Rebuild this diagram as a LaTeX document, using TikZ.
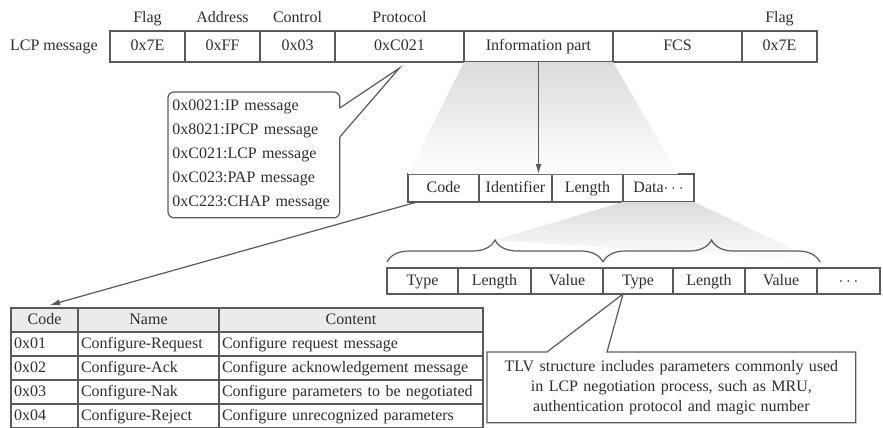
\documentclass[tikz,border=0pt]{standalone}
\usepackage{fontspec}
\setmainfont{Liberation Serif}
\usetikzlibrary{arrows.meta,positioning,decorations.pathreplacing,calc}
\definecolor{LineGray}{HTML}{5A5A5A}
\definecolor{TextGray}{HTML}{2E2E2E}
\definecolor{HeadGray}{HTML}{EBEBEB}
\newcommand{\lcpfont}{\fontsize{8}{10}\selectfont}
\tikzset{%
  field/.style={draw=LineGray,line width=0.6pt,inner sep=0pt,outer sep=0pt,
    minimum height=15.5pt,font=\lcpfont,text=TextGray,text height=5.8pt,text depth=1.7pt},
  subfield/.style={field,minimum height=14pt},
  tlvfield/.style={field,minimum height=13pt},
  caption/.style={inner sep=0pt,font=\lcpfont,text=TextGray,text height=5.8pt,text depth=1.7pt},
  cell/.style={draw=LineGray,line width=0.6pt,inner xsep=1.5pt,inner ysep=0pt,outer sep=0pt,
    anchor=north west,minimum height=12pt,font=\lcpfont,text=TextGray,
    text height=5.8pt,text depth=1.7pt,align=left},
  headcell/.style={cell,fill=HeadGray,align=center},
  note/.style={inner sep=0pt,font=\lcpfont,text=TextGray},
  outline/.style={draw=LineGray,line width=0.6pt},
  flow/.style={-{Latex[length=5pt,width=3pt]},line width=0.6pt,LineGray},
  funnel/.style={top color=black!14,bottom color=white,draw=none},
  tlvbrace/.style={decorate,decoration={brace,amplitude=11pt},outline}
}

\begin{document}
\begin{tikzpicture}[x=0.5pt,y=-0.5pt]
  \fill[white] (0,0) rectangle (883,428);
  \useasboundingbox (0,0) rectangle (883,428);

  % LCP frame
  \node[field,minimum width=37.5pt,anchor=west] (flagA) at (110,46.5) {0x7E};
  \node[field,minimum width=37.5pt,right=0pt of flagA] (addr) {0xFF};
  \node[field,minimum width=37.5pt,right=0pt of addr] (ctrl) {0x03};
  \node[field,minimum width=64.5pt,right=0pt of ctrl] (proto) {0xC021};
  \node[field,minimum width=74.5pt,right=0pt of proto] (info) {Information part};
  \node[field,minimum width=64.5pt,right=0pt of info] (fcs) {FCS};
  \node[field,minimum width=37.5pt,right=0pt of fcs] (flagB) {0x7E};
  \node[caption,left=6pt of flagA] (lcplabel) {LCP message};
  \node[caption,above=2.5pt of flagA] (lblflagA) {Flag};
  \node[caption,above=2.5pt of addr] (lbladdr) {Address};
  \node[caption,above=2.5pt of ctrl] (lblctrl) {Control};
  \node[caption,above=2.5pt of proto] (lblproto) {Protocol};
  \node[caption,above=2.5pt of flagB] (lblflagB) {Flag};

  % information part
  \node[subfield,minimum width=35.5pt,anchor=west] (code) at (408,188) {Code};
  \node[subfield,minimum width=36.5pt,right=0pt of code] (ident) {Identifier};
  \node[subfield,minimum width=35.5pt,right=0pt of ident] (len) {Length};
  \node[subfield,minimum width=35.5pt,right=0pt of len] (data) {Data\ensuremath{\cdots}};

  % TLV options
  \node[tlvfield,minimum width=35.5pt,anchor=west] (typeA) at (387,281) {Type};
  \node[tlvfield,minimum width=36.5pt,right=0pt of typeA] (lenA) {Length};
  \node[tlvfield,minimum width=36pt,right=0pt of lenA] (valA) {Value};
  \node[tlvfield,minimum width=35pt,right=0pt of valA] (typeB) {Type};
  \node[tlvfield,minimum width=36pt,right=0pt of typeB] (lenB) {Length};
  \node[tlvfield,minimum width=36pt,right=0pt of lenB] (valB) {Value};
  \node[tlvfield,minimum width=31.5pt,right=0pt of valB] (more) {\ensuremath{\cdots}};

  % code table
  \node[headcell,text width=30.5pt] (hcode) at (11,308) {Code};
  \node[headcell,text width=67.5pt] (hname) at (78,308) {Name};
  \node[headcell,text width=129pt] (hcontent) at (219,308) {Content};
  \foreach \cd/\nm/\ct [count=\i] in {0x01/Configure-Request/Configure request message,
      0x02/Configure-Ack/Configure acknowledgement message,
      0x03/Configure-Nak/Configure parameters to be negotiated,
      0x04/Configure-Reject/Configure unrecognized parameters}
  {
    \node[cell,text width=30.5pt] (tcode\i) at (11,{308+24*\i}) {\cd};
    \node[cell,text width=67.5pt] (tname\i) at (78,{308+24*\i}) {\nm};
    \node[cell,text width=129pt] (tcontent\i) at (219,{308+24*\i}) {\ct};
  }

  % notes
  \node[note,anchor=north west,minimum width=85.5pt,minimum height=62.5pt,
    text width=81.5pt,inner xsep=2pt,align=left,
    font={\fontsize{8}{12}\selectfont}] (protomap) at (168,92)
    {0x0021:IP message\\0x8021:IPCP message\\0xC021:LCP message\\0xC023:PAP message\\0xC223:CHAP message};
  \draw[outline,rounded corners=3pt] ([yshift=-8pt]protomap.north east) -- (protomap.north east)
    -- (protomap.north west) -- (protomap.south west) -- (protomap.south east)
    -- ([yshift=-22.5pt]protomap.north east);
  \draw[outline] ([yshift=-8pt]protomap.north east) -- ([yshift=-3pt]proto.south)
    -- ([yshift=-22.5pt]protomap.north east);

  \node[note,anchor=north west,minimum width=184pt,minimum height=35pt,text width=180pt,
    align=center] (tlvnote) at (487,352)
    {TLV structure includes parameters commonly used\\in LCP negotiation process, such as MRU,\\authentication protocol and magic number};
  \draw[outline] (tlvnote.north west) -- ([xshift=30pt]tlvnote.north west)
    -- ([xshift=-7.5pt]typeB.south) -- ([xshift=60pt]tlvnote.north west)
    -- (tlvnote.north east) -- (tlvnote.south east) -- (tlvnote.south west) -- cycle;

  % funnels
  \coordinate (braceAtip) at ($(typeA.north west)!0.5!(valA.north east)+(0,14pt)$);
  \shade[funnel] (info.south west) -- (info.south east) -- ([xshift=-8pt]data.north east)
    -- (code.north west) -- cycle;
  \shade[funnel] (data.south west) -- (data.south east) -- ([xshift=1.5pt,yshift=3pt]valB.north east)
    -- (braceAtip) -- cycle;

  % arrows and braces
  \draw[flow] (info.south) -- (info.south |- ident.north);
  \draw[flow] ([xshift=4.5pt]code.south west) -- ([xshift=2.75pt,yshift=1.5pt]hcode.north);
  \draw[tlvbrace] ([yshift=3pt]typeA.north west) -- ([yshift=3pt]valA.north east);
  \draw[tlvbrace] ([yshift=3pt]typeB.north west) -- ([xshift=1.5pt,yshift=3pt]valB.north east);
\end{tikzpicture}
\end{document}
